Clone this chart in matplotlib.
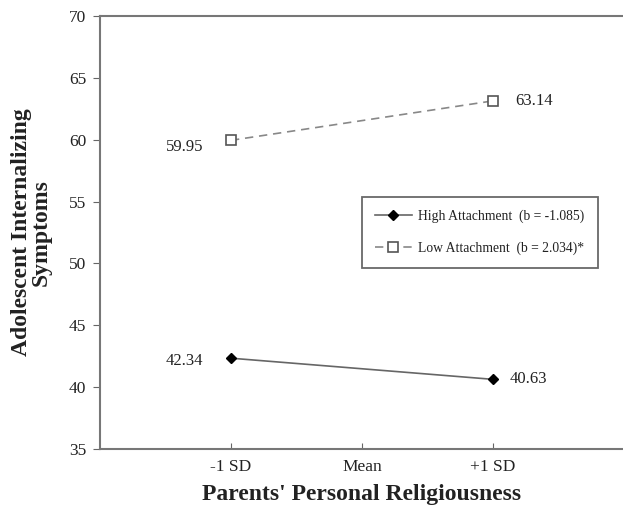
import matplotlib
matplotlib.use("Agg")
import matplotlib.pyplot as plt

categories = ["-1 SD", "Mean", "+1 SD"]
x_pos = [1, 3]
high_vals = [42.34, 40.63]
low_vals = [59.95, 63.14]
high_label = "High Attachment  (b = -1.085)"
low_label = "Low Attachment  (b = 2.034)*"
yticks = [35, 40, 45, 50, 55, 60, 65, 70]

plt.rcParams['font.family'] = ['Liberation Serif', 'DejaVu Serif']

W, H = 623, 511
fig = plt.figure(figsize=(W / 100, H / 100), dpi=100)
ax = fig.add_axes([100 / W, (H - 449) / H, 524 / W, 433 / H])

ax.plot(x_pos, high_vals, color='#666666', lw=1.2, ls='-', marker='D', ms=5,
        mfc='black', mec='black', label=high_label)
ax.plot(x_pos, low_vals, color='#888888', lw=1.2, ls=(0, (5, 3.5)), marker='s', ms=6.5,
        mfc='white', mec='#555555', mew=1.2, label=low_label)

label_offsets = {
    (0, 'low'): (-20, -5, 'right'),
    (1, 'low'): (16, 0, 'left'),
    (0, 'high'): (-20, -2, 'right'),
    (1, 'high'): (12, 0, 'left'),
}
for name, vals in [('low', low_vals), ('high', high_vals)]:
    for i, (xv, yv) in enumerate(zip(x_pos, vals)):
        dx, dy, ha = label_offsets[(i, name)]
        ax.annotate(f"{yv:.2f}", (xv, yv), xytext=(dx, dy), textcoords='offset points',
                    ha=ha, va='center', fontsize=12, color='#222222')

ax.set_xlim(0, 4)
ax.set_ylim(35, 70)
ax.set_xticks([1, 2, 3])
ax.set_xticklabels(categories, fontsize=12.5)
ax.set_yticks(yticks)
ax.set_yticklabels([str(v) for v in yticks], fontsize=12.5)
ax.tick_params(axis='x', direction='in', length=4, color='#666666', pad=7, labelcolor='#222222')
ax.tick_params(axis='y', direction='out', length=5, color='#666666', pad=5, labelcolor='#222222')

for s in ['left', 'bottom', 'top']:
    ax.spines[s].set_color('#777777')
    ax.spines[s].set_linewidth(1.5)
ax.spines['right'].set_visible(False)

ax.set_xlabel("Parents' Personal Religiousness", fontsize=17, fontweight='bold',
              labelpad=7, color='#222222')
ax.set_ylabel("Adolescent Internalizing\nSymptoms", fontsize=17, fontweight='bold',
              labelpad=12, linespacing=0.95, color='#222222')

leg = ax.legend(loc='upper left', bbox_to_anchor=(0.5, 0.582), fontsize=9.8, frameon=True,
                fancybox=False, edgecolor='#444444', handlelength=2.7, handletextpad=0.5,
                borderpad=0.95, labelspacing=1.3, borderaxespad=0)
leg.get_frame().set_linewidth(1.3)
for t in leg.get_texts():
    t.set_color('#222222')

fig.savefig("out.png", dpi=100)
